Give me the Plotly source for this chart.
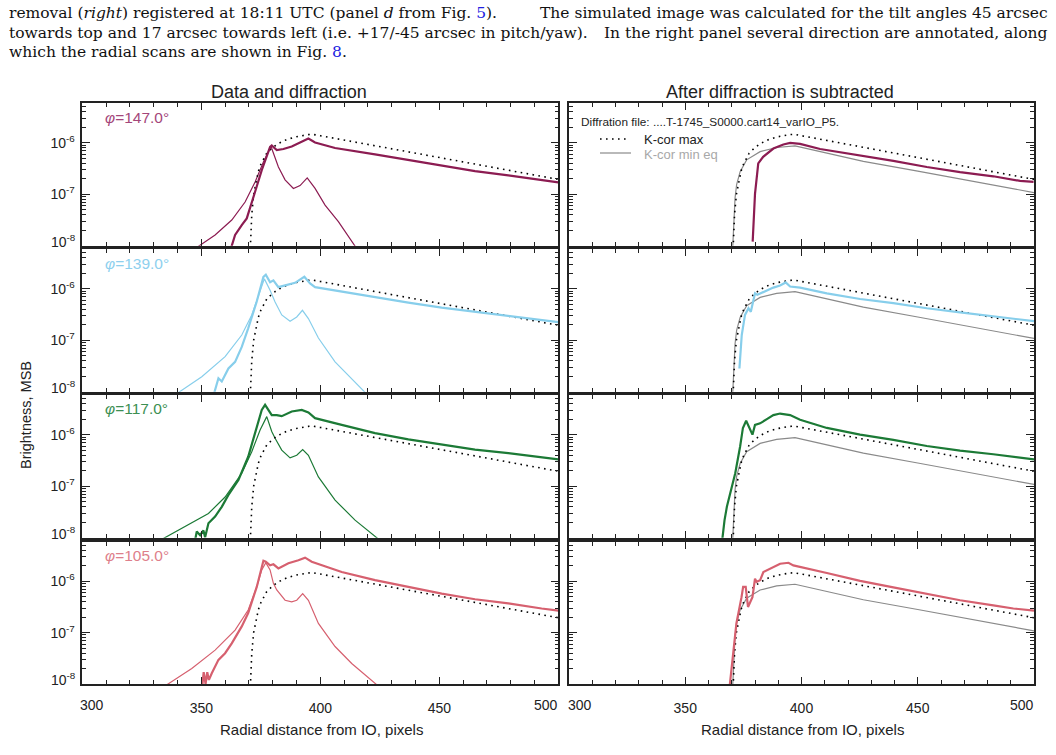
import plotly.graph_objects as go

# ---------------- data ----------------
angles = ["147.0", "139.0", "117.0", "105.0"]
line_colors = ["#8C1C52", "#87CEEB", "#1C7A36", "#D6606F"]
label_colors = ["#A4467A", "#8ED0EE", "#3C8F52", "#DE7F8B"]

# K-cor model curves (shared)
kmax_x = [370.6, 371.2, 372.0, 373.0, 374.0, 375.0, 376.0, 377.5, 380.0, 382.5, 386.0, 390.0,
          395.0, 397.0, 400.0, 410.0, 420.0, 430.0, 440.0, 450.0, 460.0, 470.0, 480.0, 490.0, 500.0]
kmax_y = [8.9e-9, 3.98e-8, 1.0e-7, 1.78e-7, 2.82e-7, 3.8e-7, 4.79e-7, 6.31e-7, 8.13e-7, 9.77e-7,
          1.17e-6, 1.32e-6, 1.45e-6, 1.46e-6, 1.38e-6, 1.14e-6, 9.33e-7, 7.67e-7, 6.31e-7, 5.19e-7,
          4.27e-7, 3.51e-7, 2.88e-7, 2.37e-7, 1.95e-7]
kmin_x = [370.4, 370.9, 371.4, 372.1, 373.6, 376.4, 382.2, 389.3, 397.2, 410.0, 426.6, 450.0, 475.0, 500.0]
kmin_y = [8.9e-9, 2.57e-8, 8.32e-8, 1.55e-7, 2.75e-7, 4.68e-7, 6.76e-7, 8.13e-7, 8.75e-7, 6.46e-7,
          4.37e-7, 2.82e-7, 1.74e-7, 1.08e-7]

# Left column: data (thick) and diffraction (thin)
data_x = [
    [362.5, 364.2, 367.0, 369.1, 372.6, 375.4, 378.9, 379.6, 381.7, 384.5, 388.0, 395.0, 397.8,
     406.2, 423.0, 437.0, 451.0, 465.0, 479.0, 493.0, 500.0],
    [355.3, 357.2, 358.6, 361.4, 364.2, 367.0, 369.7, 373.3, 376.1, 377.1, 378.9, 380.3, 382.4,
     386.6, 389.4, 393.3, 395.7, 397.8, 409.0, 423.0, 437.0, 451.0, 465.0, 479.0, 500.0],
    [347.4, 348.1, 349.5, 350.9, 351.6, 353.0, 355.8, 358.6, 361.4, 365.6, 369.7, 373.3, 375.4,
     376.8, 378.2, 379.6, 381.7, 383.8, 388.0, 392.2, 395.0, 397.8, 409.0, 423.0, 437.0, 451.0,
     465.0, 479.0, 500.0],
    [350.4, 351.0, 351.8, 352.5, 353.2, 354.4, 357.2, 360.0, 362.8, 367.0, 369.7, 373.3, 376.1,
     377.1, 378.9, 380.3, 382.4, 386.6, 390.8, 393.6, 396.4, 409.0, 423.0, 437.0, 451.0, 465.0,
     479.0, 493.0, 500.0],
]
data_y = [
    [9.0e-9, 1.62e-8, 2.51e-8, 3.39e-8, 1.12e-7, 2.95e-7, 8.32e-7, 8.9e-7, 7.24e-7, 7.59e-7,
     8.51e-7, 1.22e-6, 1.02e-6, 7.94e-7, 5.96e-7, 4.61e-7, 3.69e-7, 2.82e-7, 2.34e-7, 1.89e-7, 1.7e-7],
    [9.0e-9, 1.82e-8, 1.58e-8, 2.82e-8, 3.8e-8, 7.41e-8, 1.7e-7, 5.62e-7, 1.7e-6, 1.86e-6, 1.33e-6,
     1.45e-6, 1.07e-6, 1.2e-6, 1.3e-6, 1.7e-6, 1.26e-6, 1.07e-6, 8.71e-7, 6.92e-7, 5.37e-7, 4.27e-7,
     3.55e-7, 3.02e-7, 2.24e-7],
    [9.0e-9, 1.32e-8, 1.12e-8, 1.38e-8, 1.02e-8, 1.9e-8, 2.57e-8, 3.98e-8, 6.76e-8, 1.32e-7, 3.72e-7,
     1.43e-6, 3.02e-6, 3.8e-6, 3.02e-6, 2.4e-6, 2.4e-6, 2.29e-6, 2.82e-6, 3.02e-6, 2.69e-6, 2.09e-6,
     1.55e-6, 1.07e-6, 8.13e-7, 6.46e-7, 5.13e-7, 4.37e-7, 3.31e-7],
    [9.0e-9, 1.7e-8, 1.0e-8, 1.7e-8, 1.2e-8, 1.62e-8, 2.95e-8, 3.98e-8, 6.17e-8, 1.32e-7, 2.4e-7,
     7.76e-7, 2.51e-6, 2.4e-6, 2.04e-6, 2.14e-6, 1.78e-6, 2.24e-6, 2.57e-6, 2.88e-6, 2.4e-6, 1.51e-6,
     1.05e-6, 7.76e-7, 5.75e-7, 4.47e-7, 3.72e-7, 2.95e-7, 2.69e-7],
]
diff_x = [
    [348.5, 355.8, 362.8, 368.4, 372.6, 376.1, 379.3, 381.0, 382.4, 385.2, 388.7, 391.5, 394.5,
     397.8, 402.0, 407.6, 414.8],
    [340.2, 350.2, 360.0, 367.0, 371.2, 374.7, 376.5, 378.9, 381.0, 383.8, 387.3, 390.1, 392.5,
     395.0, 399.2, 406.2, 413.2, 419.0],
    [333.8, 343.1, 353.0, 360.0, 367.0, 371.2, 374.7, 377.5, 379.6, 381.0, 383.8, 387.3, 390.1,
     392.6, 395.0, 399.2, 406.2, 414.6, 424.3],
    [335.3, 346.0, 355.8, 364.2, 369.7, 373.3, 375.4, 377.1, 378.9, 380.3, 381.7, 385.2, 388.0,
     390.1, 392.6, 395.0, 399.2, 406.2, 413.2, 423.9],
]
diff_y = [
    [9.5e-9, 1.62e-8, 3.16e-8, 7.08e-8, 1.74e-7, 4.27e-7, 8.51e-7, 5.37e-7, 3.39e-7, 1.91e-7,
     1.3e-7, 1.48e-7, 2.09e-7, 1.3e-7, 6.17e-8, 2.95e-8, 9.5e-9],
    [9.5e-9, 1.95e-8, 4.79e-8, 1.26e-7, 3.09e-7, 8.71e-7, 1.55e-6, 9.33e-7, 5.5e-7, 3.09e-7,
     2.34e-7, 2.82e-7, 3.8e-7, 2.63e-7, 1.1e-7, 3.8e-8, 1.82e-8, 9.5e-9],
    [9.5e-9, 1.62e-8, 2.95e-8, 6.17e-8, 1.78e-7, 4.68e-7, 1.23e-6, 2.24e-6, 1.15e-6, 8.51e-7,
     5.01e-7, 3.55e-7, 3.98e-7, 5.13e-7, 3.98e-7, 1.51e-7, 5.37e-8, 2.19e-8, 9.5e-9],
    [9.5e-9, 2.0e-8, 4.57e-8, 1.12e-7, 2.75e-7, 7.76e-7, 1.66e-6, 2.29e-6, 1.66e-6, 9.12e-7,
     6.76e-7, 4.27e-7, 3.98e-7, 4.27e-7, 5.75e-7, 4.27e-7, 1.51e-7, 5.37e-8, 2.51e-8, 9.5e-9],
]

# Right column: data after diffraction subtraction
sub_x = [
    [379.0, 380.0, 381.4, 383.5, 387.9, 392.2, 395.1, 399.4, 408.0, 425.2, 439.5, 453.9, 468.2,
     482.5, 494.0, 499.8],
    [373.3, 374.3, 375.7, 377.2, 378.2, 380.0, 381.0, 383.6, 387.9, 390.8, 393.2, 395.1, 399.4,
     410.9, 425.2, 439.5, 453.9, 468.2, 482.5, 500.0],
    [365.9, 366.9, 367.9, 369.3, 371.5, 373.6, 374.8, 376.2, 377.6, 378.9, 380.0, 382.2, 385.1,
     387.9, 390.8, 395.1, 399.4, 410.9, 425.2, 439.5, 453.9, 468.2, 482.5, 500.0],
    [369.1, 370.6, 372.0, 374.2, 374.9, 376.0, 377.0, 378.9, 380.0, 380.7, 382.2, 383.6, 386.5,
     390.8, 394.4, 396.5, 410.9, 425.2, 439.5, 453.9, 468.2, 482.5, 491.1, 500.0],
]
sub_y = [
    [1.2e-8, 1.02e-7, 3.98e-7, 5.37e-7, 7.76e-7, 9.33e-7, 1.0e-6, 9.55e-7, 7.59e-7, 5.75e-7,
     4.47e-7, 3.39e-7, 2.69e-7, 2.24e-7, 1.82e-7, 1.74e-7],
    [2.82e-8, 1.26e-7, 3.09e-7, 4.17e-7, 3.55e-7, 8.13e-7, 7.59e-7, 8.51e-7, 1.05e-6, 1.15e-6,
     1.32e-6, 1.1e-6, 1.05e-6, 8.13e-7, 6.31e-7, 5.25e-7, 4.17e-7, 3.47e-7, 2.95e-7, 2.34e-7],
    [9.0e-9, 2.19e-8, 3.98e-8, 7.24e-8, 1.78e-7, 5.89e-7, 1.35e-6, 1.86e-6, 1.35e-6, 1.0e-6,
     1.55e-6, 1.66e-6, 2.0e-6, 2.4e-6, 2.57e-6, 2.4e-6, 1.95e-6, 1.35e-6, 1.0e-6, 7.94e-7, 6.03e-7,
     4.9e-7, 4.17e-7, 3.31e-7],
    [9.0e-9, 4.57e-8, 1.51e-7, 4.9e-7, 7.76e-7, 7.76e-7, 3.16e-7, 4.9e-7, 1.12e-6, 9.77e-7,
     1.05e-6, 1.51e-6, 1.78e-6, 2.19e-6, 2.29e-6, 2.04e-6, 1.45e-6, 1.02e-6, 7.59e-7, 5.62e-7,
     4.27e-7, 3.39e-7, 2.95e-7, 2.69e-7],
]

x_ticks = [300, 350, 400, 450, 500]
y_ticks = [1e-8, 1e-7, 1e-6]
y_ticktext = ["10<sup>-8</sup>", "10<sup>-7</sup>", "10<sup>-6</sup>"]

# ---------------- layout geometry ----------------
W, H = 1056, 755
col_px = [(82.3, 558.3), (569.0, 1034.0)]
row_px = [(103.3, 245.7), (249.0, 391.7), (395.0, 537.7), (541.7, 684.0)]
FONT = "Liberation Sans, Arial, sans-serif"
AX = "#222222"

def xd(a, b):
    return [a / W, b / W]

def yd(a, b):
    return [1 - b / H, 1 - a / H]

minor_y = [k * d for d in (1e-8, 1e-7, 1e-6) for k in range(2, 10)]

fig = go.Figure()
layout = dict(
    width=W, height=H, margin=dict(l=0, r=0, t=0, b=0, autoexpand=False),
    paper_bgcolor="white", plot_bgcolor="white", showlegend=False,
    font=dict(family=FONT, color=AX),
)

dot = "1.6px,4.4px"
ann = []

def px_ann(x, y, text, size=14, color=AX, xanchor="left", family=FONT, angle=0):
    ann.append(dict(x=x / W, y=1 - y / H, xref="paper", yref="paper", text=text,
                    showarrow=False, xanchor=xanchor, yanchor="middle", textangle=angle,
                    font=dict(size=size, color=color, family=family)))

for r in range(4):
    for c in range(2):
        i = r * 2 + c + 1
        xs = f"x{i}" if i > 1 else "x"
        ys = f"y{i}" if i > 1 else "y"
        kx = f"xaxis{i}" if i > 1 else "xaxis"
        ky = f"yaxis{i}" if i > 1 else "yaxis"
        bottom = (r == 3)
        layout[kx] = dict(
            domain=xd(*col_px[c]), anchor=ys, range=[300, 500], automargin=False,
            showline=True, linecolor=AX, linewidth=1.6, mirror="ticks",
            ticks="inside", ticklen=7, tickwidth=1, tickcolor=AX,
            tickmode="array", tickvals=x_ticks,
            ticktext=["", "350", "400", "450", ""],
            showticklabels=bottom, ticklabelstandoff=10,
            tickfont=dict(size=14, family=FONT, color=AX),
            minor=dict(ticks="inside", ticklen=4, tickwidth=1, tickcolor=AX,
                       tickmode="array", tickvals=list(range(310, 500, 10))),
            showgrid=False, zeroline=False,
        )
        layout[ky] = dict(
            domain=yd(*row_px[r]), anchor=xs, type="log", range=[-8, -5.23], automargin=False,
            showline=True, linecolor=AX, linewidth=1.6, mirror="ticks",
            ticks="inside", ticklen=8, tickwidth=1, tickcolor=AX,
            tickmode="array", tickvals=y_ticks, ticktext=[""] + y_ticktext[1:],
            showticklabels=(c == 0), ticklabelstandoff=3,
            tickfont=dict(size=14, family=FONT, color=AX),
            minor=dict(ticks="inside", ticklen=4, tickwidth=1, tickcolor=AX,
                       tickmode="array", tickvals=minor_y),
            showgrid=False, zeroline=False,
        )
        if c == 0:
            # bottom decade label sits slightly above its tick (kept inside the panel)
            ann.append(dict(x=78 / W, xref="paper", y=-8, yref=ys, text=y_ticktext[0],
                            showarrow=False, xanchor="right", yanchor="middle", yshift=5,
                            font=dict(size=14, family=FONT, color=AX)))
        if bottom:
            ann.append(dict(x=x_ticks[0], xref=xs, y=1 - 705 / H, yref="paper", text=str(x_ticks[0]),
                            showarrow=False, xanchor="left", yanchor="middle", xshift=-4 if c == 0 else -3,
                            font=dict(size=14, family=FONT, color=AX)))
            ann.append(dict(x=x_ticks[-1], xref=xs, y=1 - 705 / H, yref="paper", text=str(x_ticks[-1]),
                            showarrow=False, xanchor="right", yanchor="middle", xshift=2,
                            font=dict(size=14, family=FONT, color=AX)))
        if c == 0:
            fig.add_trace(go.Scatter(x=diff_x[r], y=diff_y[r], xaxis=xs, yaxis=ys, mode="lines",
                                     line=dict(color=line_colors[r], width=1.2)))
            fig.add_trace(go.Scatter(x=kmax_x, y=kmax_y, xaxis=xs, yaxis=ys, mode="lines",
                                     line=dict(color="black", width=1.6, dash=dot)))
            fig.add_trace(go.Scatter(x=data_x[r], y=data_y[r], xaxis=xs, yaxis=ys, mode="lines",
                                     line=dict(color=line_colors[r], width=2.2)))
        else:
            fig.add_trace(go.Scatter(x=kmin_x, y=kmin_y, xaxis=xs, yaxis=ys, mode="lines",
                                     line=dict(color="#8a8a8a", width=1.2)))
            fig.add_trace(go.Scatter(x=kmax_x, y=kmax_y, xaxis=xs, yaxis=ys, mode="lines",
                                     line=dict(color="black", width=1.6, dash=dot)))
            fig.add_trace(go.Scatter(x=sub_x[r], y=sub_y[r], xaxis=xs, yaxis=ys, mode="lines",
                                     line=dict(color=line_colors[r], width=2.2)))

fig.update_layout(**layout)

# column titles
px_ann(288.5, 92, "Data and diffraction", size=18, xanchor="center")
px_ann(780, 92, "After diffraction is subtracted", size=18, xanchor="center")
# axis titles
px_ann(321, 729, "Radial distance from IO, pixels", size=15, xanchor="center")
px_ann(802, 729, "Radial distance from IO, pixels", size=15, xanchor="center")
px_ann(26, 415, "Brightness, MSB", size=14.5, xanchor="center", angle=-90)
# angle labels
for r in range(4):
    px_ann(103, row_px[r][0] + 14, f"<i>φ</i>=" + angles[r] + "°", size=15.5, color=label_colors[r])
# right top annotations
px_ann(579, 122, "Diffration file: ....T-1745_S0000.cart14_varIO_P5.", size=11.8)
px_ann(642, 139, "K-cor max", size=13)
px_ann(642, 154, "K-cor min eq", size=13, color="#a8a8a8")

# caption text (serif)
SERIF = "DejaVu Serif, Liberation Serif, serif"
CS = 15.5
blue = "<span style='color:#2020e0'>{}</span>"
px_ann(7, 13, "removal (<i>right</i>) registered at 18:11 UTC (panel <i>d</i> from Fig. " + blue.format("5") + ").",
       size=CS, family=SERIF, color="#111")
px_ann(1050, 13, "The simulated image was calculated for the tilt angles 45 arcsec",
       size=CS, family=SERIF, color="#111", xanchor="right")
px_ann(7, 32.5, "towards top and 17 arcsec towards left (i.e. +17/-45 arcsec in pitch/yaw).",
       size=CS, family=SERIF, color="#111")
px_ann(1050, 32.5, "In the right panel several direction are annotated, along",
       size=CS, family=SERIF, color="#111", xanchor="right")
px_ann(7, 52, "which the radial scans are shown in Fig. " + blue.format("8") + ".",
       size=CS, family=SERIF, color="#111")

fig.update_layout(annotations=ann)

# legend samples in the top-right panel
shapes = [
    dict(type="line", xref="paper", yref="paper", x0=600 / W, x1=630 / W, y0=1 - 139 / H, y1=1 - 139 / H,
         line=dict(color="black", width=1.6, dash=dot)),
    dict(type="line", xref="paper", yref="paper", x0=600 / W, x1=631 / W, y0=1 - 153 / H, y1=1 - 153 / H,
         line=dict(color="#8a8a8a", width=1.2)),
]
fig.update_layout(shapes=shapes)

fig.write_html("out.html")
